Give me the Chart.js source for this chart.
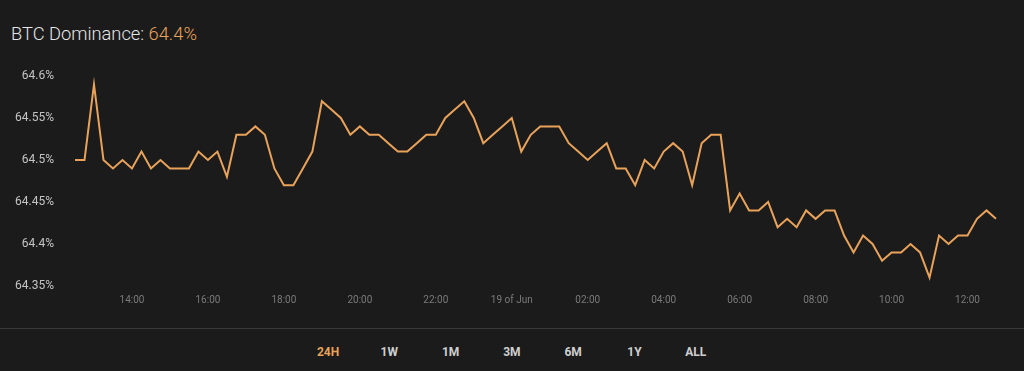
<!DOCTYPE html>
<html>
<head>
<meta charset="utf-8">
<script src="https://cdn.jsdelivr.net/npm/chart.js@4.4.0/dist/chart.umd.min.js"></script>
<style>
  html, body { margin: 0; padding: 0; background: #1b1b1b; }
  body { width: 1024px; height: 371px; position: relative; overflow: hidden; font-family: Roboto, sans-serif; }
  .title { position: absolute; left: 11px; top: 23px; font-size: 18.3px; color: #e6e6e6; font-weight: 300; }
  .title span { color: #e9a25a; }
  .chart { position: absolute; left: 0; top: 0; width: 1024px; height: 320px; }
  .sep { position: absolute; left: 0; top: 328px; width: 1024px; height: 1px; background: #3a3a3a; }
  .ranges { position: absolute; top: 345px; left: 0; width: 1024px; height: 16px; }
  .ranges div { position: absolute; width: 40px; margin-left: -20px; text-align: center; font-size: 12px; font-weight: bold; color: #cfcfcf; }
  .ranges div.active { color: #e9a25a; }
</style>
</head>
<body>
<div class="title">BTC Dominance: <span>64.4%</span></div>
<div class="chart"><canvas id="chartDominance"></canvas></div>
<div class="sep"></div>
<div class="ranges" id="ranges"></div>
<script>
// 15 minute samples, 18 Jun 12:30 -> 19 Jun 12:45
const dominance = [
	64.50, 64.50, 64.59, 64.50, 64.49, 64.50, 64.49, 64.51, 64.49, 64.50,
	64.49, 64.49, 64.49, 64.51, 64.50, 64.51, 64.48, 64.53, 64.53, 64.54,
	64.53, 64.49, 64.47, 64.47, 64.49, 64.51, 64.57, 64.56, 64.55, 64.53,
	64.54, 64.53, 64.53, 64.52, 64.51, 64.51, 64.52, 64.53, 64.53, 64.55,
	64.56, 64.57, 64.55, 64.52, 64.53, 64.54, 64.55, 64.51, 64.53, 64.54,
	64.54, 64.54, 64.52, 64.51, 64.50, 64.51, 64.52, 64.49, 64.49, 64.47,
	64.50, 64.49, 64.51, 64.52, 64.51, 64.47, 64.52, 64.53, 64.53, 64.44,
	64.46, 64.44, 64.44, 64.45, 64.42, 64.43, 64.42, 64.44, 64.43, 64.44,
	64.44, 64.41, 64.39, 64.41, 64.40, 64.38, 64.39, 64.39, 64.40, 64.39,
	64.36, 64.41, 64.40, 64.41, 64.41, 64.43, 64.44, 64.43,
];

const tickLabels = ['14:00', '16:00', '18:00', '20:00', '22:00', '19 of Jun',
	'02:00', '04:00', '06:00', '08:00', '10:00', '12:00'];
const firstTickIndex = 6;
const tickEvery = 8;

const ranges = ['24H', '1W', '1M', '3M', '6M', '1Y', 'ALL'];
const activeRange = '24H';

const times = [];
for (let i = 0; i < dominance.length; i++) {
	const minutes = 12 * 60 + 30 + i * 15;
	const h = Math.floor(minutes / 60) % 24;
	const m = minutes % 60;
	times.push(String(h).padStart(2, '0') + ':' + String(m).padStart(2, '0'));
}

const rangeBox = document.getElementById('ranges');
ranges.forEach((r, i) => {
	const el = document.createElement('div');
	el.textContent = r;
	el.style.left = (328 + i * 61.3) + 'px';
	if (r === activeRange) el.className = 'active';
	rangeBox.appendChild(el);
});

const data = {
	labels: times,
	datasets: [
		{
			data: dominance,
			borderColor: '#e9a25a',
			borderWidth: 2,
			pointRadius: 0,
			tension: 0,
			fill: false,
		},
	],
};

const config = {
	type: 'line',
	data: data,
	options: {
		maintainAspectRatio: false,
		responsive: true,
		animation: false,
		layout: { padding: { top: 76, right: 28, bottom: 0, left: 0 } },
		plugins: {
			legend: { display: false },
			tooltip: { enabled: false },
		},
		scales: {
			x: {
				grid: { display: false, drawTicks: false },
				border: { display: false },
				afterFit: (scale) => { scale.height = 34; },
				ticks: {
					autoSkip: false,
					maxRotation: 0,
					padding: 8,
					color: '#7a7a7a',
					font: { family: 'Roboto', size: 10 },
					callback: (value, index) => {
						const k = index - firstTickIndex;
						if (k >= 0 && k % tickEvery === 0) return tickLabels[k / tickEvery];
						return null;
					},
				},
			},
			y: {
				min: 64.35,
				max: 64.6,
				grid: { display: false, drawTicks: false },
				border: { display: false },
				afterFit: (scale) => { scale.width = 75; },
				ticks: {
					stepSize: 0.05,
					padding: 21,
					color: '#c4c4c4',
					font: { family: 'Roboto', size: 12 },
					callback: (value) => Math.round(value * 100) / 100 + '%',
				},
			},
		},
	},
};

const ctx = document.getElementById('chartDominance').getContext('2d');
const myChart = new Chart(ctx, config);
</script>
</body>
</html>
